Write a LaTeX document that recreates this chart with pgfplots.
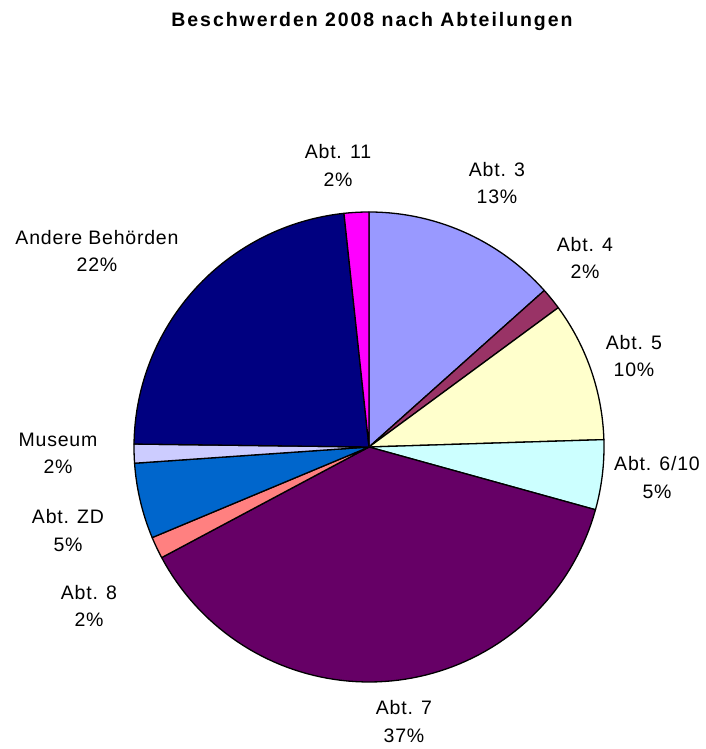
\documentclass[border=0pt]{standalone}
\usepackage{pgfplots}
\pgfplotsset{compat=1.18}
\usepackage{fontspec}
\setmainfont{Liberation Sans}
\newfontfamily\lblfont[LetterSpace=4]{Liberation Sans}
\newfontfamily\ttlfont[LetterSpace=10]{Liberation Sans}
\definecolor{cAbtDrei}{HTML}{9999FF}
\definecolor{cAbtVier}{HTML}{993366}
\definecolor{cAbtFuenf}{HTML}{FFFFCC}
\definecolor{cAbtSechs}{HTML}{CCFFFF}
\definecolor{cAbtSieben}{HTML}{660066}
\definecolor{cAbtAcht}{HTML}{FF8080}
\definecolor{cAbtZD}{HTML}{0066CC}
\definecolor{cMuseum}{HTML}{CCCCFF}
\definecolor{cAndere}{HTML}{000080}
\definecolor{cAbtElf}{HTML}{FF00FF}
\def\cum{0}
\newcommand\slice[2]{%
  \pgfmathsetmacro\sA{90-3.6*\cum}%
  \pgfmathsetmacro\sB{90-3.6*(\cum+#2)}%
  \edef\doslice{\noexpand\addplot[fill=#1, draw=black, line width=1.3bp, line join=round, domain=\sB:\sA, samples=80] ({369+235*cos(x)},{302+235*sin(x)}) -- (axis cs:369,302) -- cycle;}%
  \doslice
  \pgfmathsetmacro\newcum{\cum+#2}\global\let\cum\newcum
}
\newcommand\lab[5]{%
  \node[anchor=center, inner sep=0pt, font=\lblfont\fontsize{19.5bp}{21bp}\selectfont] at (axis cs:#1,749-#2) {#4};
  \node[anchor=center, inner sep=0pt, font=\lblfont\fontsize{19.5bp}{21bp}\selectfont] at (axis cs:#1,749-#3) {#5};
}
\begin{document}
\begin{tikzpicture}
\begin{axis}[width=706bp, height=749bp, scale only axis, xmin=0, xmax=706, ymin=0, ymax=749, hide axis, clip=false]
% slices clockwise from 12 o'clock, values in percent
\slice{cAbtDrei}{13.4}
\slice{cAbtVier}{1.5}
\slice{cAbtFuenf}{9.6}
\slice{cAbtSechs}{4.8}
\slice{cAbtSieben}{37.9}
\slice{cAbtAcht}{1.5}
\slice{cAbtZD}{5.2}
\slice{cMuseum}{1.3}
\slice{cAndere}{23.1}
\slice{cAbtElf}{1.7}
\lab{338}{152}{180}{Abt. 11}{2\%}
\lab{497}{170}{197}{Abt. 3}{13\%}
\lab{585}{245}{272}{Abt. 4}{2\%}
\lab{634}{343}{370}{Abt. 5}{10\%}
\lab{657}{464}{492}{Abt. 6/10}{5\%}
\lab{404}{708}{736}{Abt. 7}{37\%}
\lab{89}{593}{620}{Abt. 8}{2\%}
\lab{68}{517}{545}{Abt. ZD}{5\%}
\lab{58}{440}{467}{Museum}{2\%}
\lab{97}{238}{265}{Andere Behörden}{22\%}
\node[anchor=center, inner sep=0pt, font=\ttlfont\bfseries\fontsize{19.5bp}{22bp}\selectfont] at (axis cs:372,749-22) {Beschwerden 2008 nach Abteilungen};
\end{axis}
\path (0,0) rectangle (706bp,749bp);
\end{tikzpicture}
\end{document}
